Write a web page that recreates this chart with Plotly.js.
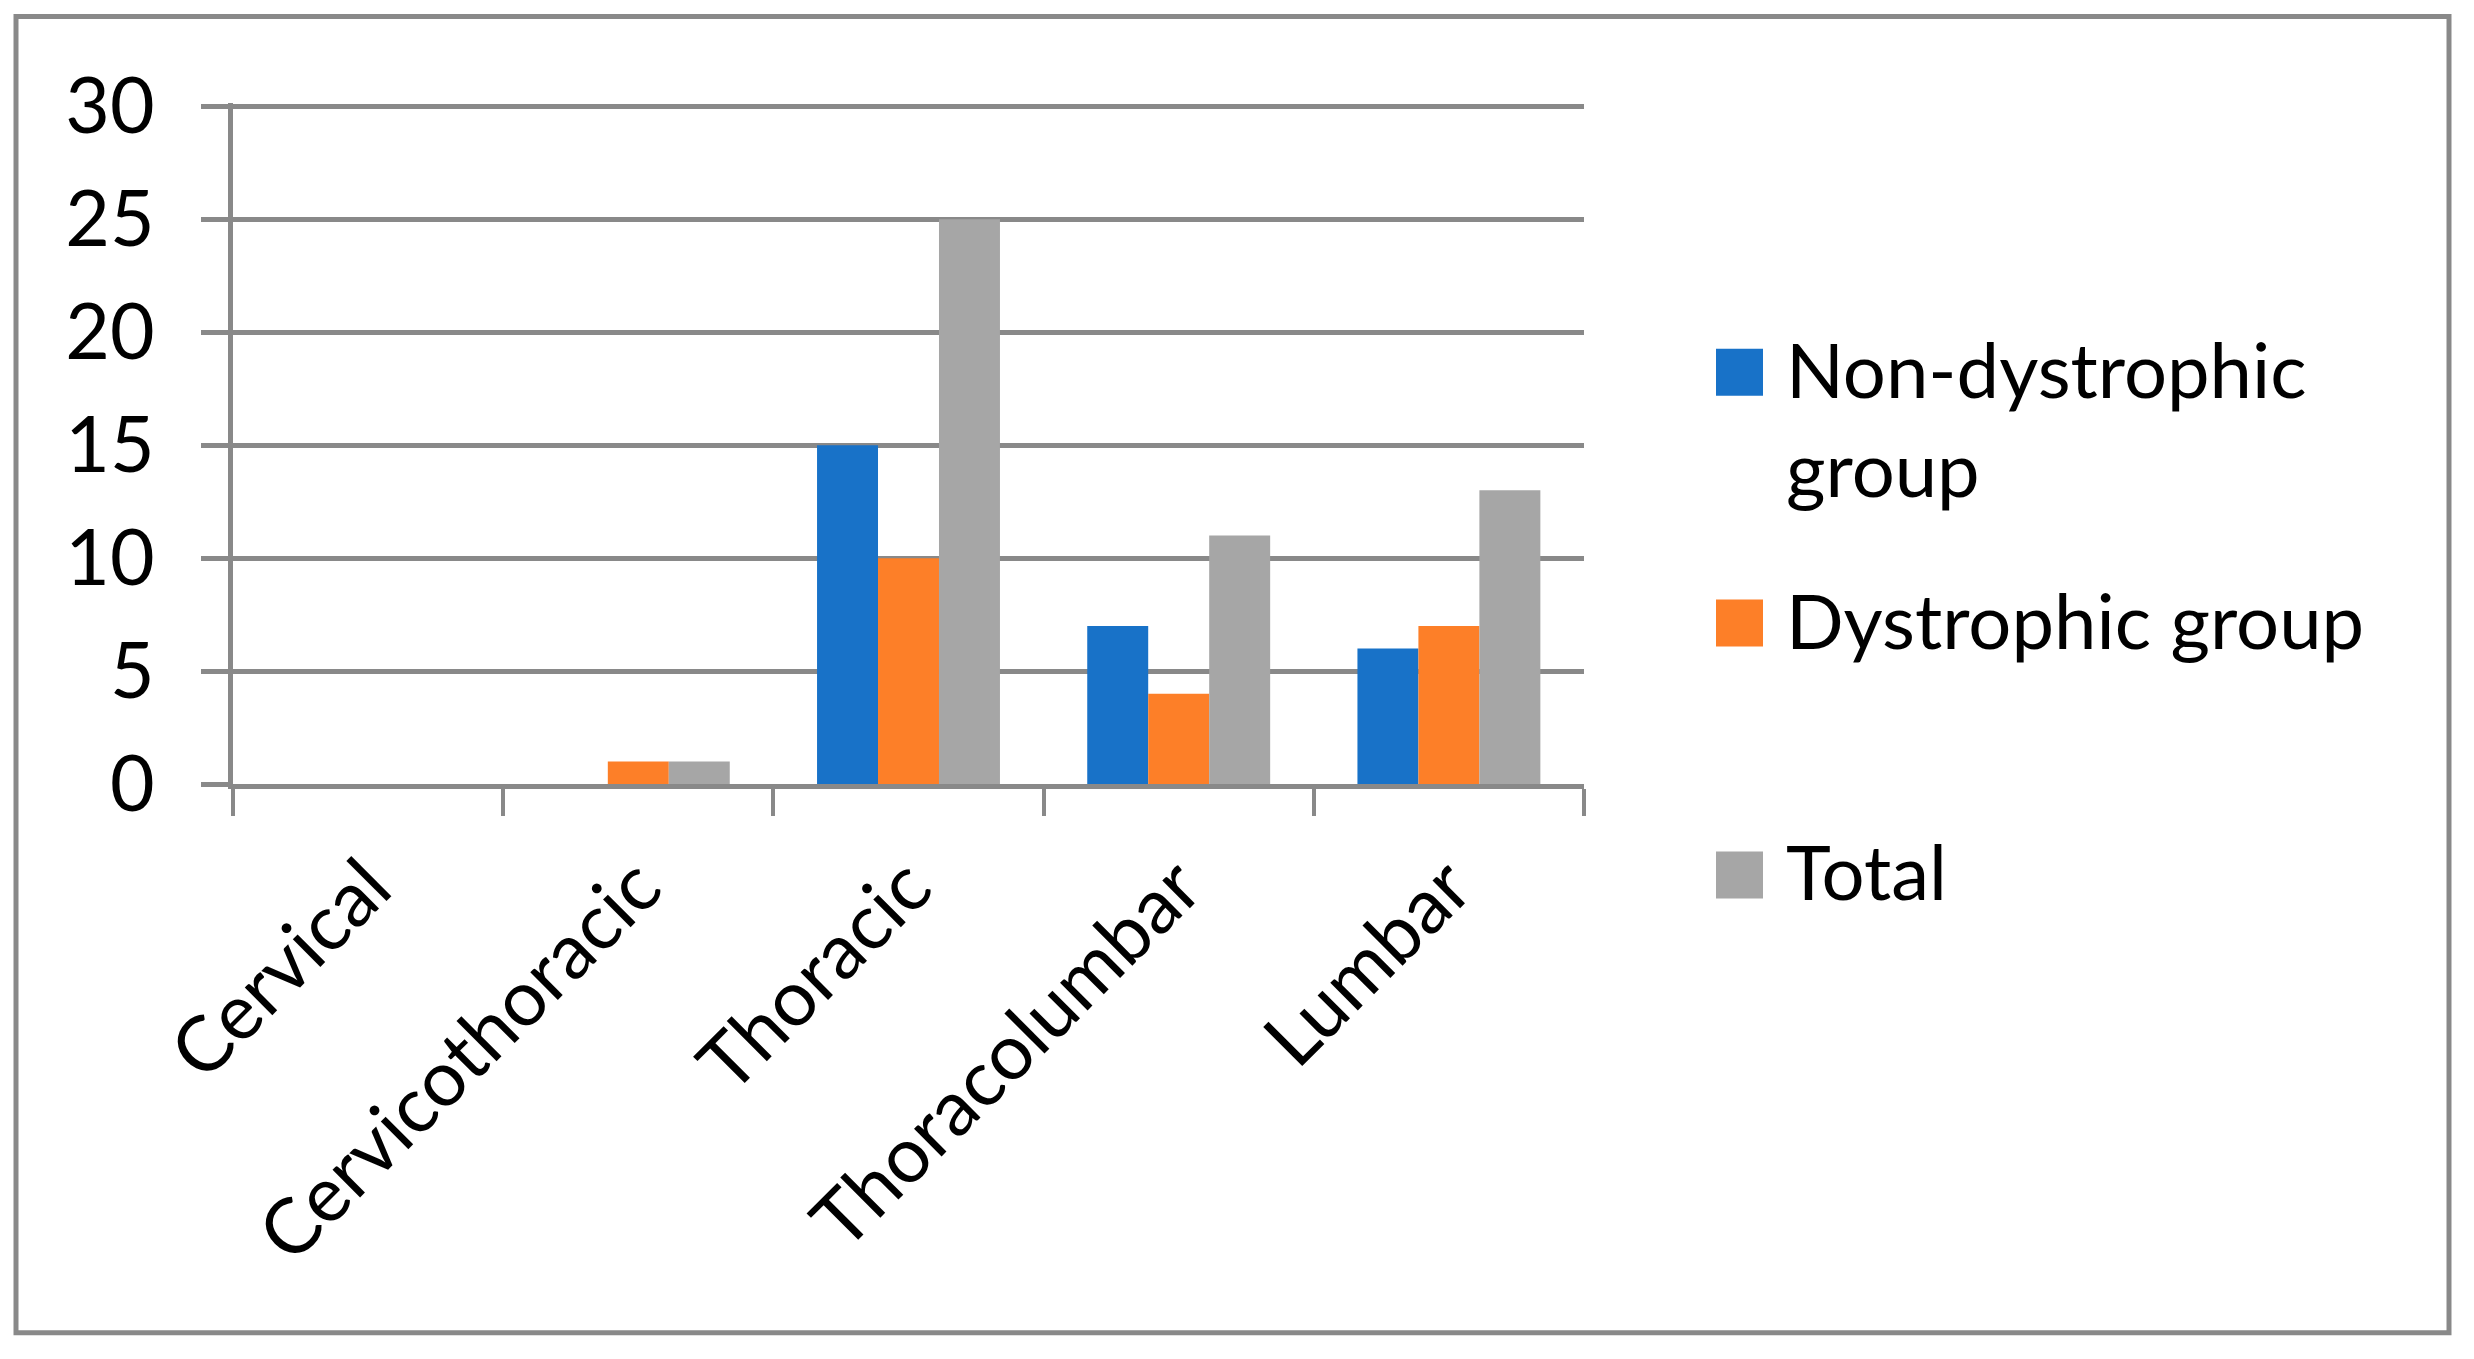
<!DOCTYPE html>
<html><head><meta charset="utf-8">
<script src="https://cdn.plot.ly/plotly-3.0.1.min.js"></script>
<style>html,body{margin:0;padding:0;background:#fff;} #chart{width:2474px;height:1359px;}</style>
</head><body><div id="chart"></div>
<script>
const categories = ['Cervical', 'Cervicothoracic', 'Thoracic', 'Thoracolumbar', 'Lumbar'];
const seriesNames = ['Non-dystrophic group', 'Dystrophic group', 'Total'];
const legendLabels = ['Non-dystrophic<br>group', 'Dystrophic group', 'Total'];
const nonDystrophic = [0, 0, 15, 7, 6];
const dystrophic = [0, 1, 10, 4, 7];
const total = [0, 1, 25, 11, 13];
const yTicks = [0, 5, 10, 15, 20, 25, 30];
const colors = ['#1872c8', '#fd7f28', '#a6a6a6'];

const W = 2474, H = 1359;
const yMax = 30.15;
const L = 233, R = 1584, B = 784;
const pxPerUnit = (784 - 106) / 30;
const T = B - yMax * pxPerUnit;
const px2x = p => (p - L) / (R - L);
const py2y = p => (B - p) / (B - T);
const gray = '#898989';
const fontFam = 'Lato, "Open Sans", sans-serif';
const fs = 77;
const lfs = 76;

const values = [nonDystrophic, dystrophic, total];
const traces = values.map((v, i) => ({
  type: 'bar', name: seriesNames[i], x: categories, y: v,
  marker: {color: colors[i], line: {width: 0}}, showlegend: false
}));

const shapes = [{
  type: 'rect', xref: 'paper', yref: 'paper',
  x0: px2x(16), x1: px2x(2449), y0: py2y(1333), y1: py2y(16),
  line: {color: gray, width: 5}, fillcolor: 'rgba(0,0,0,0)'
}];
const annotations = [];
const sqCenters = [372, 623, 875];
const sq = 47;
sqCenters.forEach((c, i) => {
  shapes.push({
    type: 'rect', xref: 'paper', yref: 'paper',
    x0: px2x(1716), x1: px2x(1716 + sq), y0: py2y(c + sq / 2), y1: py2y(c - sq / 2),
    line: {width: 0}, fillcolor: colors[i]
  });
  const lines = legendLabels[i].split('<br>').length;
  annotations.push({
    xref: 'paper', yref: 'paper', x: px2x(1784), xanchor: 'left',
    y: py2y(c - 4 + (lines - 1) * lfs * 1.3 / 2), yanchor: 'middle',
    text: legendLabels[i], showarrow: false, align: 'left',
    font: {family: fontFam, size: lfs, color: '#000'}
  });
});

const layout = {
  width: W, height: H,
  margin: {l: L, r: W - R, t: T, b: H - B, pad: 0},
  paper_bgcolor: '#fff', plot_bgcolor: '#fff',
  barmode: 'group', bargap: 0.323, bargroupgap: 0,
  showlegend: false,
  font: {family: fontFam, size: fs, color: '#000'},
  xaxis: {
    type: 'category', tickson: 'boundaries', ticks: 'outside', ticklen: 27, tickwidth: 4,
    tickcolor: gray, showline: true, linecolor: gray, linewidth: 5, showgrid: false,
    tickangle: -45, ticklabelstandoff: 22,
    tickfont: {family: fontFam, size: fs, color: '#000'}, automargin: false,
    fixedrange: true
  },
  yaxis: {
    range: [0, yMax], tickvals: yTicks, ticktext: yTicks.map(String),
    showgrid: true, gridcolor: gray, gridwidth: 5, zeroline: false,
    ticks: 'outside', ticklen: 27, tickwidth: 5, tickcolor: gray,
    showline: true, linecolor: gray, linewidth: 5, ticklabelstandoff: 31,
    tickfont: {family: fontFam, size: fs, color: '#000'}, automargin: false, fixedrange: true
  },
  shapes: shapes, annotations: annotations
};

Plotly.newPlot('chart', traces, layout, {displayModeBar: false, staticPlot: true});
</script>
</body></html>
